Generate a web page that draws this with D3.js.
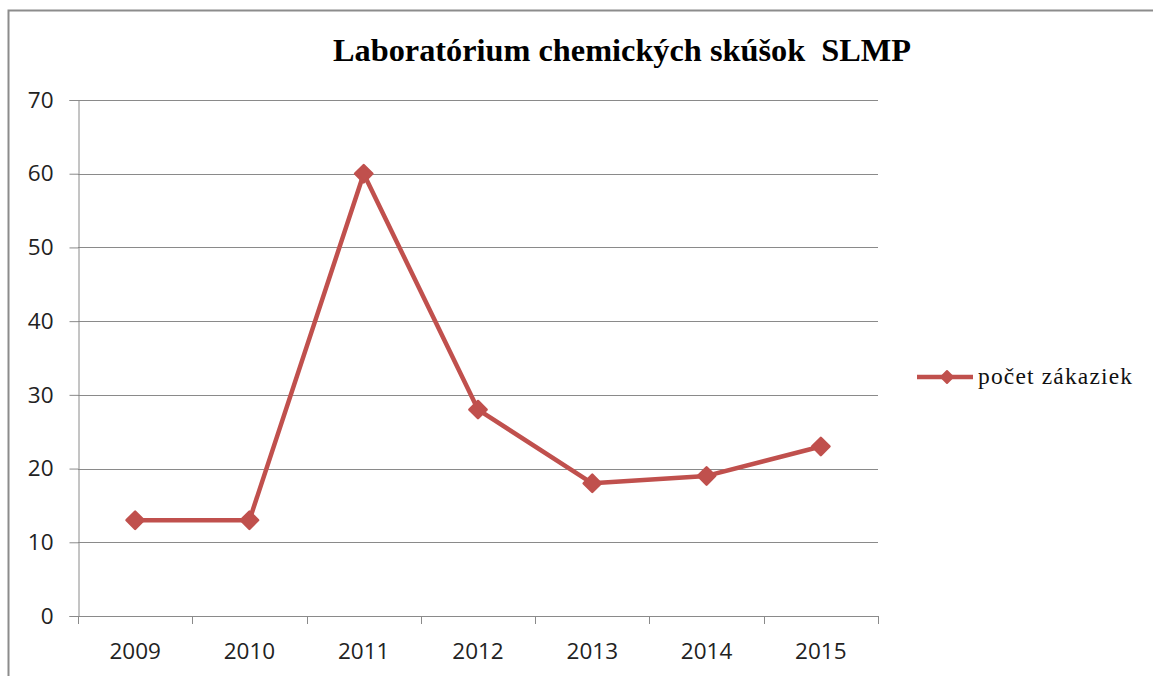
<!DOCTYPE html>
<html><head><meta charset="utf-8">
<script src="https://cdn.jsdelivr.net/npm/d3@7"></script>
<style>body{margin:0;background:#fff}svg{display:block}</style>
</head><body>
<script>
const categories = ["2009","2010","2011","2012","2013","2014","2015"];
const values = [13,13,60,28,18,19,23];
const yTicks = [0,10,20,30,40,50,60,70];
const seriesName = "počet zákaziek";
const title = "Laboratórium chemických skúšok  SLMP";

const W=1153,H=676;
const svg=d3.select("body").append("svg").attr("width",W).attr("height",H);
svg.append("rect").attr("x",8.5).attr("y",10.5).attr("width",1200).attr("height",700)
  .attr("fill","#fff").attr("stroke","#8c8c8c").attr("stroke-width",2);

const L=78,R=878,T=100,B=616;
const x=d3.scaleBand().domain(categories).range([L,R]);
const y=d3.scaleLinear().domain([0,70]).range([B,T]);
const gray="#8a8a8a";
const tickFont="'Open Sans',sans-serif";

// gridlines
svg.append("g").selectAll("line").data(yTicks.filter(d=>d>0)).join("line")
  .attr("x1",L).attr("x2",R).attr("y1",d=>Math.round(y(d))+0.5).attr("y2",d=>Math.round(y(d))+0.5)
  .attr("stroke",gray).attr("stroke-width",1);

// y axis
const ya=svg.append("g").attr("transform",`translate(${L+0.5},0)`)
  .call(d3.axisLeft(y).tickValues(yTicks).tickSize(9).tickPadding(16).tickFormat(d3.format("d")));
ya.selectAll("path,line").attr("stroke",gray);
ya.selectAll("text").attr("font-family",tickFont).attr("font-size",22.5).attr("fill","#222");

// x axis
const xa=svg.append("g").attr("transform",`translate(0,${B+0.5})`)
  .call(d3.axisBottom(x).tickSize(0).tickPadding(27));
xa.select("path").attr("stroke",gray).attr("d",`M${L},0H${R}`);
xa.selectAll("text").attr("font-family",tickFont).attr("font-size",22.5).attr("fill","#222");
svg.append("g").selectAll("line").data(categories.concat(["end"])).join("line")
  .attr("x1",(d,i)=>Math.round(i<categories.length?x(d):R)+0.5)
  .attr("x2",(d,i)=>Math.round(i<categories.length?x(d):R)+0.5)
  .attr("y1",B).attr("y2",B+8).attr("stroke",gray);

const red="#c0504d";
const cx=d=>x(d)+x.bandwidth()/2;
svg.append("path").datum(values)
  .attr("d",d3.line().x((d,i)=>cx(categories[i])).y(d=>y(d)))
  .attr("fill","none").attr("stroke",red).attr("stroke-width",4.5).attr("stroke-linejoin","round");
const diamond=d3.symbol().type(d3.symbolDiamond2).size(190);
svg.append("g").selectAll("path").data(values).join("path")
  .attr("d",diamond).attr("fill",red).attr("stroke",red).attr("stroke-width",2.5).attr("stroke-linejoin","round")
  .attr("transform",(d,i)=>`translate(${cx(categories[i])},${y(d)})`);

// title
svg.append("text").attr("x",622).attr("y",61).attr("text-anchor","middle")
  .style("white-space","pre").attr("xml:space","preserve")
  .attr("font-family","'Liberation Serif','Times New Roman',serif").attr("font-weight","bold")
  .attr("font-size",32).attr("textLength",578).attr("lengthAdjust","spacingAndGlyphs").text(title);

// legend
const lg=svg.append("g");
lg.append("line").attr("x1",917).attr("x2",973).attr("y1",377).attr("y2",377).attr("stroke",red).attr("stroke-width",4.5);
lg.append("path").attr("d",d3.symbol().type(d3.symbolDiamond2).size(90)).attr("fill",red)
  .attr("stroke",red).attr("stroke-width",2).attr("stroke-linejoin","round").attr("transform","translate(947,377)");
lg.append("text").attr("x",978).attr("y",384).attr("font-family","'Liberation Serif','Times New Roman',serif")
  .attr("font-size",23.5).attr("fill","#111").attr("textLength",154).attr("lengthAdjust","spacing").text(seriesName);
</script>
</body></html>
